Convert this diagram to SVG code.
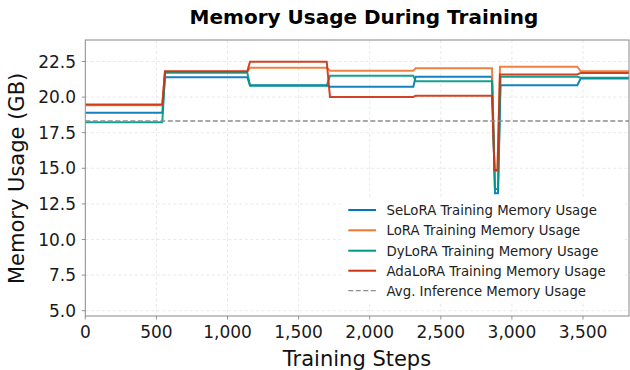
<svg xmlns="http://www.w3.org/2000/svg" width="630" height="370" viewBox="0 0 630 370">
<style>
.grid{stroke:#e3e3e3;stroke-width:0.8;stroke-dasharray:3,2.5;fill:none}
.tick{stroke:#888;stroke-width:0.9}
.tl{font-family:"DejaVu Sans",sans-serif;font-size:17px;fill:#1a1a1a}
.lab{font-family:"DejaVu Sans",sans-serif;font-size:21px;fill:#111}
.leg{font-family:"DejaVu Sans",sans-serif;font-size:13.3px;fill:#222}
.s{fill:none;stroke-width:2;stroke-linejoin:miter;opacity:0.92}
</style>
<defs><clipPath id="plot"><rect x="85.3" y="40" width="543.7" height="276"/></clipPath></defs>
<rect width="630" height="370" fill="#fff"/>
<g id="grid">
<path class="grid" d="M156.4,40V316M227.5,40V316M298.6,40V316M369.7,40V316M440.8,40V316M511.9,40V316M583,40V316"/>
<path class="grid" d="M85.3,310.7H629M85.3,275.1H629M85.3,239.5H629M85.3,203.9H629M85.3,168.3H629M85.3,132.7H629M85.3,97.1H629M85.3,61.5H629"/>
</g>
<g id="series" clip-path="url(#plot)">
<path id="selora" class="s" stroke="#0077BB" d="M85.3,112.7H162.3L165,77.3H247.3L250,85.3H326.7L330,86.7H413.3L415.7,76.7H492L495,193.3H498L500.5,85.3H577.3L580.7,78.5H629"/>
<path id="lora" class="s" stroke="#EE7733" d="M85.3,105.3H162.3L165,71.8H247.3L250,67.7H326.7L330,70.7H413.3L415.7,68.3H492L494.5,171H497.5L500,66.7H577.3L580.7,71.3H629"/>
<path id="dylora" class="s" stroke="#009988" d="M85.3,122.3H162.3L165,72.7H247.3L250,85.8H326.7L330,75.7H413.3L415.7,81.3H492L495,189H498L500.5,76.7H577.3L580.7,77.7H629"/>
<path id="adalora" class="s" stroke="#CC3311" d="M85.3,104.5H162.3L165,71.3H247.3L250,61.7H326.7L330,97H413.3L415.7,95.7H492L494.5,170H497.5L500,74.5H577.3L580.7,72.9H629"/>
<path id="avg" fill="none" stroke="#8c8c8c" stroke-width="1.3" stroke-dasharray="5,2.5" d="M85.3,121H629"/>
</g>
<g id="axes">
<rect x="85.3" y="40" width="543.7" height="276" fill="none" stroke="#888" stroke-width="1"/>
<path class="tick" d="M85.3,316v3.5M156.4,316v3.5M227.5,316v3.5M298.6,316v3.5M369.7,316v3.5M440.8,316v3.5M511.9,316v3.5M583,316v3.5"/>
<path class="tick" d="M85.3,310.7h-3.5M85.3,275.1h-3.5M85.3,239.5h-3.5M85.3,203.9h-3.5M85.3,168.3h-3.5M85.3,132.7h-3.5M85.3,97.1h-3.5M85.3,61.5h-3.5"/>
</g>
<g id="xticks" class="tl" text-anchor="middle">
<text x="85.3" y="338">0</text>
<text x="156.4" y="338">500</text>
<text x="227.5" y="338">1,000</text>
<text x="298.6" y="338">1,500</text>
<text x="369.7" y="338">2,000</text>
<text x="440.8" y="338">2,500</text>
<text x="511.9" y="338">3,000</text>
<text x="583" y="338">3,500</text>
</g>
<g id="yticks" class="tl" text-anchor="end">
<text x="76" y="316.8">5.0</text>
<text x="76" y="281.2">7.5</text>
<text x="76" y="245.6">10.0</text>
<text x="76" y="210">12.5</text>
<text x="76" y="174.4">15.0</text>
<text x="76" y="138.8">17.5</text>
<text x="76" y="103.2">20.0</text>
<text x="76" y="67.6">22.5</text>
</g>
<g id="legend">
<rect x="341" y="198" width="284" height="105" fill="#fff" opacity="0.9"/>
<path d="M348.3,210H376" stroke="#0077BB" stroke-width="2"/>
<path d="M348.3,230.3H376" stroke="#EE7733" stroke-width="2"/>
<path d="M348.3,250.7H376" stroke="#009988" stroke-width="2"/>
<path d="M348.3,270.7H376" stroke="#CC3311" stroke-width="2"/>
<path d="M348.3,290.7H376" stroke="#8c8c8c" stroke-width="1.3" stroke-dasharray="5,2.5"/>
<text class="leg" x="386.5" y="214.8">SeLoRA Training Memory Usage</text>
<text class="leg" x="386.5" y="235.1">LoRA Training Memory Usage</text>
<text class="leg" x="386.5" y="255.5">DyLoRA Training Memory Usage</text>
<text class="leg" x="386.5" y="275.5">AdaLoRA Training Memory Usage</text>
<text class="leg" x="386.5" y="295.5">Avg. Inference Memory Usage</text>
</g>
<text id="title" x="364" y="24" text-anchor="middle" font-family="'DejaVu Sans',sans-serif" font-size="20" font-weight="bold" fill="#000">Memory Usage During Training</text>
<text id="xlabel" class="lab" x="357" y="366" text-anchor="middle">Training Steps</text>
<text id="ylabel" class="lab" x="0" y="0" text-anchor="middle" transform="translate(23.5,178.4) rotate(-90)">Memory Usage (GB)</text>
</svg>
